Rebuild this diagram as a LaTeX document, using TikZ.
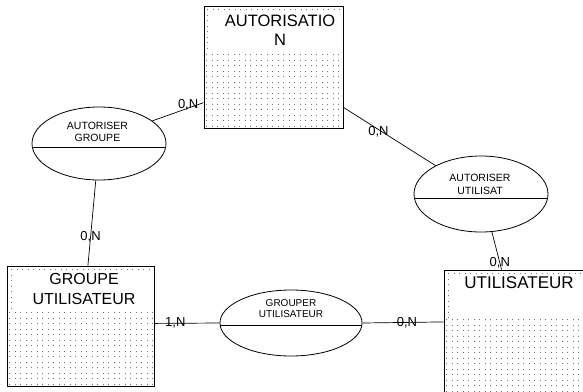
\documentclass[tikz,border=0pt]{standalone}
\usepackage{fontspec}
\setmainfont{Liberation Sans}
\usetikzlibrary{shapes.geometric}
\newcommand\dotfield[4]{% x0, y0, nx, ny
  \foreach \ii in {0,...,#3}{\foreach \jj in {0,...,#4}{%
    \fill[dotcol] (#1+5.5*\ii,#2+5.5*\jj) rectangle ++(1,1);}}}
\begin{document}
\begin{tikzpicture}[x=1pt,y=-1pt,
  entity/.style={draw, rectangle, inner sep=0pt, line width=1pt},
  assoc/.style={draw, ellipse, inner sep=0pt, line width=0.8pt},
  link/.style={line width=0.7pt},
  card/.style={font=\fontsize{13}{13}\selectfont, inner sep=0pt},
  etitle/.style={font=\fontsize{16.5}{19}\selectfont, align=center, inner sep=0pt},
  atext/.style={font=\fontsize{10.5}{12}\selectfont, align=center, inner sep=0pt},
  dotcol/.style={black!55}
]
\useasboundingbox (0,0) rectangle (583,391);
\clip (0,0) rectangle (583,391);

% dot fields
\dotfield{206}{54}{24}{13}
\dotfield{207}{9}{0}{7}
\dotfield{212.5}{9}{23}{0}
\dotfield{9}{312}{26}{13}
\dotfield{11}{269}{0}{7}
\dotfield{16.5}{269}{24}{0}
\dotfield{446}{319}{25}{13}
\dotfield{448}{273}{0}{8}
\dotfield{453.5}{273}{23}{0}

% entities
\node[entity, minimum width=139pt, minimum height=122pt] (auth) at (273.5,67) {};
\node[entity, minimum width=147pt, minimum height=120pt] (gu) at (80.5,326) {};
\node[entity, minimum width=150pt, minimum height=150pt] (u) at (519,345) {};

\node[etitle] (authT) at (280,30) {AUTORISATIO\\[-0.5pt]N};
\node[etitle, font=\fontsize{16}{20.5}\selectfont] (guT) at (84,289) {GROUPE\\UTILISATEUR};
\node[etitle, font=\fontsize{17}{19}\selectfont] (uT) at (519,283) {UTILISATEUR};

% associations
\node[assoc, minimum width=134pt, minimum height=73pt] (ag) at (99,143.5) {};
\node[assoc, minimum width=134pt, minimum height=76pt] (au) at (481,194) {};
\node[assoc, minimum width=142pt, minimum height=66pt] (gr) at (291,323) {};

\draw[link] (ag.183) -- (ag.-3);
\draw[link] (au.184.3) -- (au.-4.3);
\draw[link] (gr.182.4) -- (gr.-2.4);

\node[atext, font=\fontsize{10.5}{11.7}\selectfont] (agT) at (97.5,132) {AUTORISER\\GROUPE};
\node[atext, font=\fontsize{10.5}{12.7}\selectfont] (auT) at (480,184.7) {AUTORISER\\UTILISAT};
\node[atext, font=\fontsize{10}{11}\selectfont] (grT) at (291,308.5) {GROUPER\\UTILISATEUR};

% connectors
\draw[link] (ag.23) -- node[card, pos=0.7, yshift=3pt] {0,N} (auth.207.5);
\draw[link] (auth.-30.5) -- node[card, pos=0.38, yshift=-2pt] {0,N} (au.148.5);
\draw[link] (ag.265) -- node[card, pos=0.66] {0,N} (gu.83.9);
\draw[link] (au.-74.4) -- node[card, pos=0.82] {0,N} (u.103.7);
\draw[link] (gu.2.3) -- node[card, pos=0.32] {1,N} (gr.west);
\draw[link] (gr.east) -- node[card, pos=0.55] {0,N} (u.163.65);
\end{tikzpicture}
\end{document}
